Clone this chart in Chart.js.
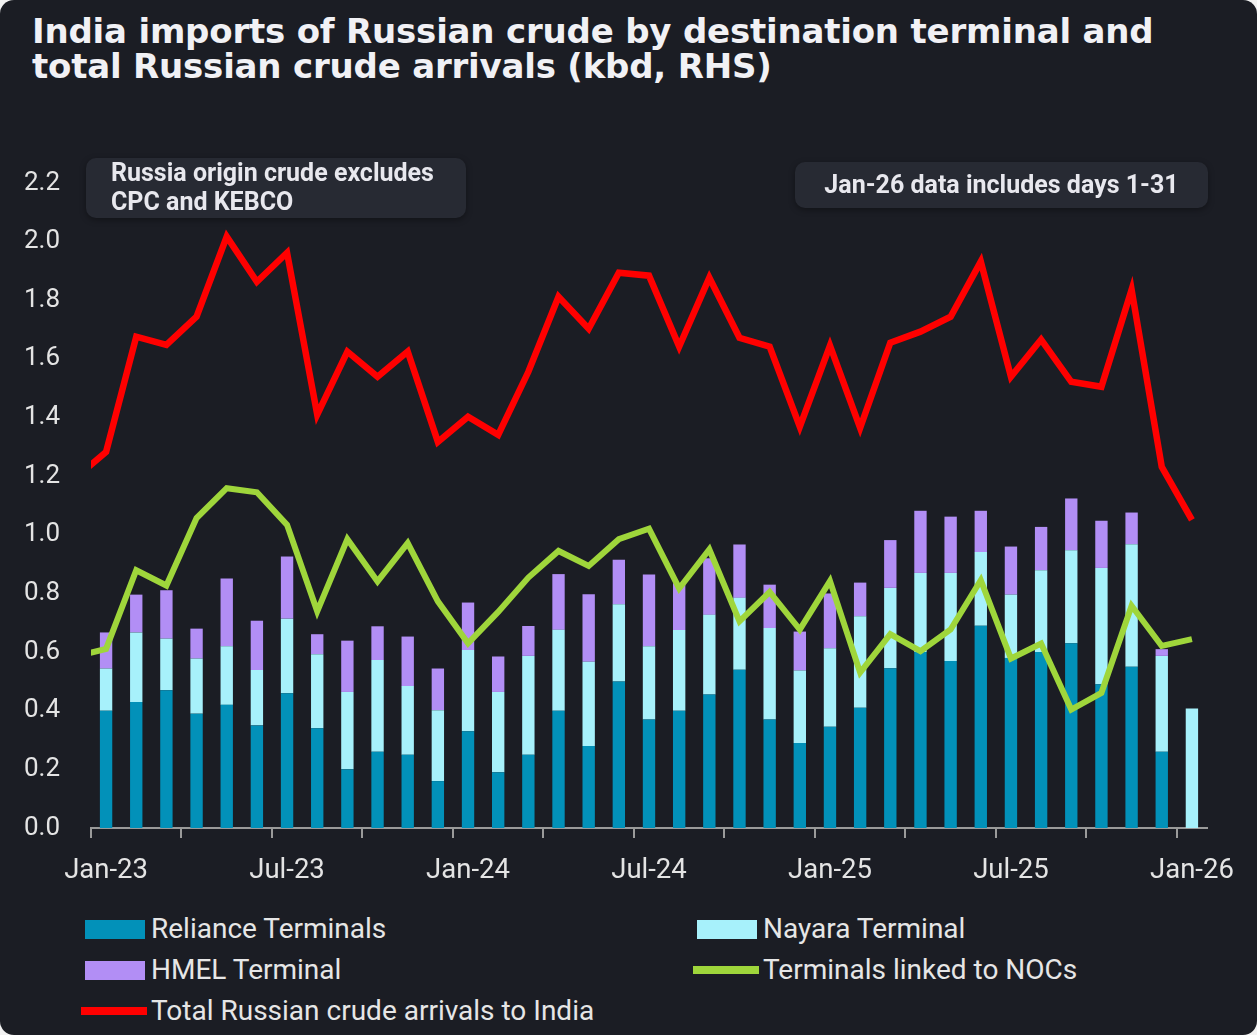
<!DOCTYPE html>
<html>
<head>
<meta charset="utf-8">
<script src="https://cdn.jsdelivr.net/npm/chart.js@4.4.1/dist/chart.umd.min.js"></script>
<style>
  html, body { margin: 0; padding: 0; background: #f2f2f2; }
  #wrap { position: relative; width: 1257px; height: 1035px; background: #1b1d24; border-radius: 14px; overflow: hidden; }
  #title { position: absolute; left: 32px; top: 14px; font-family: "DejaVu Sans", sans-serif; font-weight: bold; font-size: 34px; line-height: 35px; color: #f1f1f5; white-space: nowrap; letter-spacing: -0.2px; }
  #c { position: absolute; left: 0; top: 0; }
  .note { position: absolute; background: #272a33; border-radius: 10px; box-shadow: 0 2px 6px rgba(0,0,0,0.35); font-family: Roboto, sans-serif; font-weight: 700; font-size: 25px; color: #e8e8ee; z-index: 2; box-sizing: border-box; }
  #n1 { left: 86px; top: 158px; width: 380px; height: 60px; padding: 0 0 0 25px; line-height: 29px; }
  #n2 { left: 795px; top: 162px; width: 413px; height: 46px; line-height: 46px; text-align: center; }
  #legend { position: absolute; left: 81px; top: 908px; display: grid; grid-template-columns: 612px auto; grid-auto-rows: 41px; font-family: Roboto, sans-serif; font-size: 28px; color: #e6e6e6; z-index: 2; }
  .li { display: flex; align-items: center; white-space: nowrap; }
  .sw { width: 66px; height: 20px; position: relative; margin-right: 4px; }
  .sw .box { position: absolute; left: 4px; top: 1px; width: 60px; height: 19px; }
  .sw .ln { position: absolute; left: 0; top: 6px; width: 66px; height: 8px; }
</style>
</head>
<body>
<div id="wrap">
  <div id="title">India imports of Russian crude by destination terminal and<br>total Russian crude arrivals (kbd, RHS)</div>
  <canvas id="c" width="1257" height="900"></canvas>
  <div class="note" id="n1">Russia origin crude excludes<br>CPC and KEBCO</div>
  <div class="note" id="n2">Jan-26 data includes days 1-31</div>
  <div id="legend"></div>
</div>
<script>
// Months Jan-23 .. Jan-26
const months = ['Jan-23','Feb-23','Mar-23','Apr-23','May-23','Jun-23','Jul-23','Aug-23','Sep-23','Oct-23','Nov-23','Dec-23',
  'Jan-24','Feb-24','Mar-24','Apr-24','May-24','Jun-24','Jul-24','Aug-24','Sep-24','Oct-24','Nov-24','Dec-24',
  'Jan-25','Feb-25','Mar-25','Apr-25','May-25','Jun-25','Jul-25','Aug-25','Sep-25','Oct-25','Nov-25','Dec-25','Jan-26'];

const reliance = [0.40,0.43,0.47,0.39,0.42,0.35,0.46,0.34,0.20,0.26,0.25,0.16,
  0.33,0.19,0.25,0.40,0.28,0.50,0.37,0.40,0.455,0.54,0.37,0.29,
  0.345,0.41,0.545,0.60,0.57,0.69,0.58,0.60,0.63,0.49,0.55,0.26,0.0];

const nayara = [0.144,0.237,0.176,0.188,0.200,0.189,0.254,0.253,0.264,0.313,0.234,0.242,
  0.277,0.274,0.337,0.276,0.287,0.263,0.250,0.275,0.272,0.245,0.312,0.247,
  0.268,0.312,0.274,0.270,0.300,0.251,0.216,0.279,0.317,0.397,0.418,0.327,0.408];

const hmel = [0.123,0.129,0.165,0.102,0.231,0.168,0.212,0.068,0.175,0.115,0.169,0.142,
  0.162,0.121,0.102,0.190,0.230,0.152,0.245,0.160,0.193,0.182,0.148,0.133,
  0.187,0.115,0.163,0.212,0.192,0.141,0.164,0.148,0.177,0.161,0.108,0.023,0.0];

// Line series start one month earlier (Dec-22); that point lies just outside the plot
const lineStartIndex = -1;
const nocs = [0.585,
  0.611,0.879,0.827,1.057,1.159,1.145,1.034,0.739,0.985,0.841,0.972,0.773,
  0.630,0.737,0.854,0.945,0.894,0.985,1.021,0.817,0.950,0.705,0.805,0.677,
  0.842,0.530,0.661,0.603,0.677,0.845,0.578,0.629,0.404,0.461,0.758,0.621,0.644];

const total = [1.195,
  1.283,1.676,1.648,1.744,2.017,1.863,1.962,1.410,1.625,1.539,1.625,1.317,
  1.403,1.341,1.556,1.812,1.703,1.894,1.884,1.642,1.877,1.672,1.642,1.369,
  1.645,1.365,1.655,1.693,1.744,1.932,1.539,1.666,1.522,1.505,1.836,1.232,1.051];

const yTicks = { min: 0, max: 2.2, step: 0.2 };
const labelEvery = 6;
const tickEvery = 3;

const C = { reliance: '#0291b9', nayara: '#a7f1fb', hmel: '#b28ef5', nocs: '#9fd63b', total: '#ff0000', axis: '#9a9a9a', text: '#e4e4e4' };

const toPts = arr => arr.map((v, i) => ({ x: i + lineStartIndex, y: v }));

const chart = new Chart(document.getElementById('c'), {
  type: 'bar',
  data: {
    labels: months,
    datasets: [
      { label: 'Reliance Terminals', data: reliance, backgroundColor: C.reliance, stack: 'bars', order: 2, legendKind: 'box' },
      { label: 'Nayara Terminal', data: nayara, backgroundColor: C.nayara, stack: 'bars', order: 2, legendKind: 'box' },
      { label: 'HMEL Terminal', data: hmel, backgroundColor: C.hmel, stack: 'bars', order: 2, legendKind: 'box' },
      { type: 'line', label: 'Terminals linked to NOCs', data: toPts(nocs), xAxisID: 'x2', stack: 'noc', borderColor: C.nocs, backgroundColor: C.nocs, borderWidth: 6, pointRadius: 0, tension: 0, order: 1, borderJoinStyle: 'miter', legendKind: 'line' },
      { type: 'line', label: 'Total Russian crude arrivals to India', data: toPts(total), xAxisID: 'x2', stack: 'tot', borderColor: C.total, backgroundColor: C.total, borderWidth: 6.5, pointRadius: 0, tension: 0, order: 0, borderJoinStyle: 'miter', legendKind: 'line' }
    ]
  },
  options: {
    responsive: false,
    animation: false,
    datasets: { bar: { grouped: false, categoryPercentage: 1, barPercentage: 0.41 } },
    layout: { padding: { top: 183, right: 50, bottom: 0, left: 0 } },
    plugins: { legend: { display: false }, tooltip: { enabled: false }, title: { display: false } },
    scales: {
      x: {
        type: 'category', stacked: true, offset: true,
        grid: { offset: true, drawOnChartArea: false, drawTicks: true, tickLength: 10, lineWidth: 2,
          color: ctx => (ctx.index !== undefined && ctx.index % tickEvery === 0) ? C.axis : 'rgba(0,0,0,0)' },
        border: { display: true, color: C.axis, width: 2 },
        ticks: { autoSkip: false, maxRotation: 0, minRotation: 0, padding: 17, color: C.text,
          font: { family: 'Roboto', size: 27.5 },
          callback: (v, i) => (i % labelEvery === 0 ? months[i] : '') },
        afterFit: s => { s.height = 72; }
      },
      x2: { type: 'linear', display: false, offset: false, grid: { offset: false }, min: -0.5, max: months.length - 0.5 },
      y: {
        stacked: true, min: yTicks.min, max: yTicks.max,
        grid: { display: false, drawTicks: false },
        border: { display: false },
        ticks: { stepSize: yTicks.step, padding: 31, color: C.text, font: { family: 'Roboto', size: 26 },
          callback: v => Number(v).toFixed(1) },
        afterFit: s => { s.width = 91; }
      }
    }
  }
});

// HTML legend built from the chart's datasets
const lg = document.getElementById('legend');
chart.data.datasets.forEach(ds => {
  const item = document.createElement('div');
  item.className = 'li';
  const sw = document.createElement('div');
  sw.className = 'sw';
  const mark = document.createElement('div');
  mark.className = ds.legendKind === 'line' ? 'ln' : 'box';
  mark.style.background = ds.legendKind === 'line' ? ds.borderColor : ds.backgroundColor;
  sw.appendChild(mark);
  const tx = document.createElement('span');
  tx.textContent = ds.label;
  item.appendChild(sw);
  item.appendChild(tx);
  lg.appendChild(item);
});
</script>
</body>
</html>
